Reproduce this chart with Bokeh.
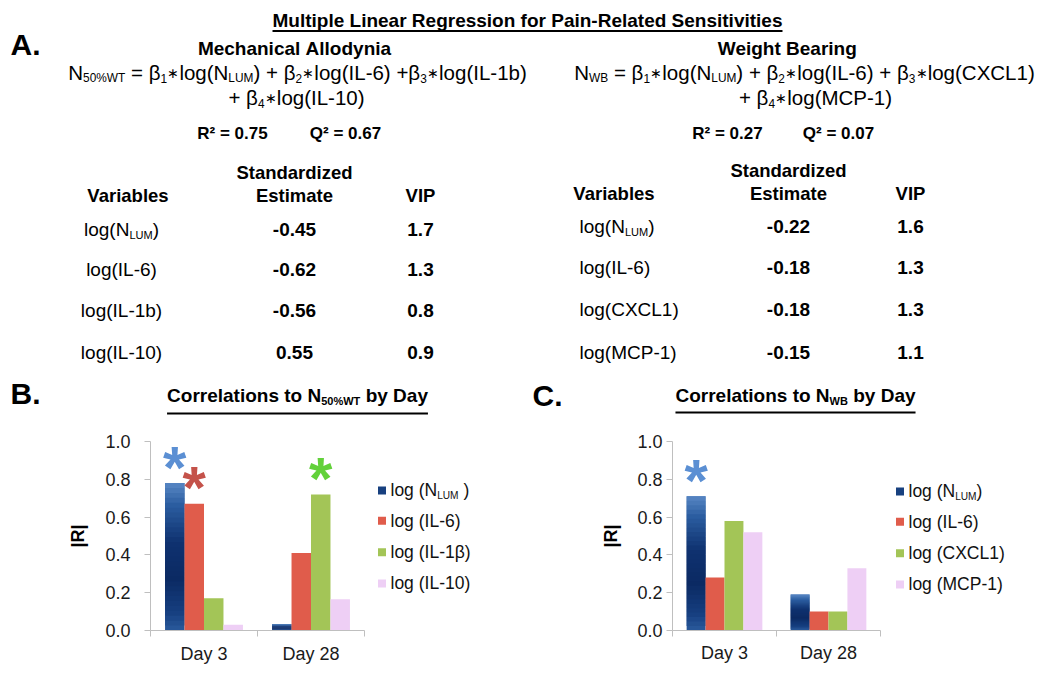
import re
from bokeh.plotting import figure
from bokeh.models import Range1d, FixedTicker, NumeralTickFormatter
from bokeh.layouts import column, row
from bokeh.core.properties import value
from bokeh.embed import file_html
from bokeh.resources import INLINE

# ---------------------------------------------------------------- data
main_title = "Multiple Linear Regression for Pain-Related Sensitivities"

ma_title = "Mechanical Allodynia"
ma_eq = ["N_{50%WT} = β_{1}∗log(N_{LUM}) + β_{2}∗log(IL-6) +β_{3}∗log(IL-1b)",
         "+ β_{4}∗log(IL-10)"]
ma_r2 = 0.75
ma_q2 = 0.67
ma_vars = ["log(N_{LUM})", "log(IL-6)", "log(IL-1b)", "log(IL-10)"]
ma_est = [-0.45, -0.62, -0.56, 0.55]
ma_vip = [1.7, 1.3, 0.8, 0.9]

wb_title = "Weight Bearing"
wb_eq = ["N_{WB} = β_{1}∗log(N_{LUM}) + β_{2}∗log(IL-6) + β_{3}∗log(CXCL1)",
         "+ β_{4}∗log(MCP-1)"]
wb_r2 = 0.27
wb_q2 = 0.07
wb_vars = ["log(N_{LUM})", "log(IL-6)", "log(CXCL1)", "log(MCP-1)"]
wb_est = [-0.22, -0.18, -0.18, -0.15]
wb_vip = [1.6, 1.3, 1.3, 1.1]

days = ["Day 3", "Day 28"]

b_title = "Correlations to N_{50%WT} by Day"
b_series = ["log (N_{LUM} )", "log (IL-6)", "log (IL-1β)", "log (IL-10)"]
b_nlum = [0.78, 0.035]
b_il6 = [0.67, 0.41]
b_il1b = [0.17, 0.72]
b_il10 = [0.03, 0.165]
b_sig = [[True, False], [True, False], [False, True], [False, False]]

c_title = "Correlations to N_{WB} by Day"
c_series = ["log (N_{LUM})", "log (IL-6)", "log (CXCL1)", "log (MCP-1)"]
c_nlum = [0.71, 0.19]
c_il6 = [0.28, 0.10]
c_cxcl1 = [0.58, 0.10]
c_mcp1 = [0.52, 0.33]
c_sig = [[True, False], [False, False], [False, False], [False, False]]

# ---------------------------------------------------------------- styling
FONT = "Liberation Sans"
SUB = 0.58
series_colors = ["#17407f", "#e05c4b", "#a3c557", "#eecff5"]
star_colors = ["#5b8fd3", "#c4524a", "#62d13a", "#eecff5"]
axis_grey = "#bfbfbf"

_R = {' ': 278, '!': 278, '%': 889, '(': 333, ')': 333, '*': 389, '+': 584, ',': 278,
      '-': 333, '.': 278, '/': 278, ':': 278, '=': 584, '|': 260, 'β': 575, '∗': 600, '²': 333}
_B = {' ': 278, '!': 333, '%': 889, '(': 333, ')': 333, '*': 389, '+': 584, ',': 278,
      '-': 333, '.': 278, '/': 278, ':': 333, '=': 584, '|': 280, 'β': 600, '∗': 600, '²': 333}
for d in "0123456789":
    _R[d] = 556
    _B[d] = 556
_R.update(dict(zip("ABCDEFGHIJKLMNOPQRSTUVWXYZ",
                   [667, 667, 722, 722, 667, 611, 778, 722, 278, 500, 667, 556, 833,
                    722, 778, 667, 778, 722, 667, 611, 722, 667, 944, 667, 667, 611])))
_R.update(dict(zip("abcdefghijklmnopqrstuvwxyz",
                   [556, 556, 500, 556, 556, 278, 556, 556, 222, 222, 500, 222, 833,
                    556, 556, 556, 556, 333, 500, 278, 556, 500, 722, 500, 500, 500])))
_B.update(dict(zip("ABCDEFGHIJKLMNOPQRSTUVWXYZ",
                   [722, 722, 722, 722, 667, 611, 778, 722, 278, 556, 722, 611, 833,
                    722, 778, 667, 778, 722, 667, 611, 722, 667, 944, 667, 667, 611])))
_B.update(dict(zip("abcdefghijklmnopqrstuvwxyz",
                   [556, 611, 556, 611, 556, 333, 611, 611, 278, 278, 556, 278, 889,
                    611, 611, 611, 611, 389, 556, 333, 611, 556, 778, 556, 556, 500])))

NBSP = "\u00a0"


def tw(s, size, bold):
    m = _B if bold else _R
    return sum(m.get(c, 556) for c in s) * size / 1000.0


def parse(s):
    out = []
    for m in re.finditer(r"_\{([^}]*)\}|∗|[^_∗]+", s):
        tok = m.group(0)
        if tok.startswith("_{"):
            out.append((m.group(1), "sub"))
        elif tok == "∗":
            out.append((tok, "op"))
        else:
            out.append((tok, "n"))
    return out


def rich(p, s, x, y, size, bold=False, align="left", color="#000000"):
    """Draw text with subscripts; y is the visual middle of the line."""
    segs = []
    for t, k in parse(s):
        fs = size * SUB if k == "sub" else size
        segs.append((t, k, fs, tw(t, fs, bold)))
    total = sum(sg[3] for sg in segs)
    start = {"left": 0.0, "center": -total / 2.0, "right": -total}[align]
    cx = start
    style = "bold" if bold else "normal"
    for t, k, fs, w in segs:
        if k == "op":
            p.text(x=[x], y=[y], text=[t], x_offset=cx + w / 2.0, y_offset=0.02 * size,
                   text_align="center", text_baseline="middle",
                   text_font=value(FONT), text_font_size=f"{0.68 * size:.2f}px",
                   text_font_style="normal", text_color=color)
        else:
            yo = 0.28 * size if k == "sub" else 0.0
            p.text(x=[x], y=[y], text=[t.replace(" ", NBSP)], x_offset=cx, y_offset=yo,
                   text_align="left", text_baseline="middle",
                   text_font=value(FONT), text_font_size=f"{fs:.2f}px",
                   text_font_style=style, text_color=color)
        cx += w
    return start, total


# ---------------------------------------------------------------- top (text) panel
TOP_W, TOP_H = 1044, 428
top = figure(width=TOP_W, height=TOP_H, x_range=Range1d(0, TOP_W), y_range=Range1d(TOP_H, 0),
             x_axis_type=None, y_axis_type=None, output_backend="svg",
             toolbar_location=None, min_border=0, outline_line_color=None)
top.xgrid.visible = False
top.ygrid.visible = False

rich(top, "A.", 10, 44, 30, bold=True)
st, tot = rich(top, main_title, 527, 20, 19, bold=True, align="center")
top.segment(x0=[527 + st], y0=[30.5], x1=[527 + st + tot], y1=[30.5], line_width=2, line_color="black")


def mlr_block(cx, title, eq, r2, q2, r2x, q2x, eqx, eq2x):
    rich(top, title, cx, 48, 19, bold=True, align="center")
    rich(top, eq[0], eqx, 72, 20.5, align="center")
    rich(top, eq[1], eq2x, 97, 20.5, align="center")
    rich(top, f"R² = {r2:.2f}", r2x, 133, 17, bold=True, align="center")
    rich(top, f"Q² = {q2:.2f}", q2x, 133, 17, bold=True, align="center")


mlr_block(294, ma_title, ma_eq, ma_r2, ma_q2, 232, 345, 297, 296)
mlr_block(787, wb_title, wb_eq, wb_r2, wb_q2, 727, 838, 804, 815)


def table(var_x, var_align, var_head_x, est_x, vip_x, head_y, rows_y, vars_, est, vip):
    rich(top, "Standardized", est_x, head_y - 23, 18.5, bold=True, align="center")
    rich(top, "Estimate", est_x, head_y, 18.5, bold=True, align="center")
    rich(top, "Variables", var_head_x, head_y, 18.5, bold=True, align="center")
    rich(top, "VIP", vip_x, head_y, 18.5, bold=True, align="center")
    for yy, v, e, vp in zip(rows_y, vars_, est, vip):
        rich(top, v, var_x, yy, 19, align=var_align)
        rich(top, f"{e:.2f}", est_x, yy, 19, bold=True, align="center")
        rich(top, f"{vp:.1f}", vip_x, yy, 19, bold=True, align="center")


table(121, "center", 128, 294, 420, 195, [229, 269, 310, 352], ma_vars, ma_est, ma_vip)
table(579, "left", 614, 788, 910, 193, [226, 267, 309, 352], wb_vars, wb_est, wb_vip)

rich(top, "B.", 10, 393, 30, bold=True)
st, tot = rich(top, b_title, 297, 395, 19, bold=True, align="center")
top.segment(x0=[297 + st], y0=[413], x1=[297 + st + tot], y1=[413], line_width=2, line_color="black")
rich(top, "C.", 532, 395, 30, bold=True)
st, tot = rich(top, c_title, 795, 395, 19, bold=True, align="center")
top.segment(x0=[795 + st], y0=[412], x1=[795 + st + tot], y1=[412], line_width=2, line_color="black")


# ---------------------------------------------------------------- bar panels
def lerp_color(stops, t):
    for (t0, c0), (t1, c1) in zip(stops[:-1], stops[1:]):
        if t0 <= t <= t1:
            f = (t - t0) / (t1 - t0) if t1 > t0 else 0
            a = [int(c0[i:i + 2], 16) for i in (1, 3, 5)]
            b = [int(c1[i:i + 2], 16) for i in (1, 3, 5)]
            return "#%02x%02x%02x" % tuple(round(a[j] + (b[j] - a[j]) * f) for j in range(3))
    return stops[-1][1]


GRAD = [(0.0, "#2a5a9c"), (0.12, "#163f80"), (0.35, "#0b2a63"), (0.6, "#0f3270"),
        (0.85, "#2b5da0"), (1.0, "#5887c4")]


def bar_panel(vals, names, sig, W, H, fl, ft, fb, ppc, leg_dx, leg_rows,
              tick_standoff, label_standoff, day_standoff):
    ppu = H - ft - fb
    fw = W - fl
    p = figure(width=W, height=H, x_range=Range1d(0, fw / ppc), y_range=Range1d(0, 1.0),
               output_backend="svg", toolbar_location=None,
               min_border_left=fl, min_border_right=0, min_border_top=ft, min_border_bottom=fb,
               outline_line_color=None)
    p.xgrid.visible = False
    p.ygrid.visible = False
    n = len(vals)
    bw = 0.182
    for k, v in enumerate(vals):
        xs = [i + 0.5 + (k - (n - 1) / 2.0) * bw for i in range(len(days))]
        if k == 0:
            ns = 30
            for j in range(ns):
                c = lerp_color(GRAD, (j + 0.5) / ns)
                p.vbar(x=xs, width=bw, bottom=[vv * j / ns for vv in v],
                       top=[vv * min(j + 2, ns) / ns for vv in v], fill_color=c, line_color=None)
        else:
            p.vbar(x=xs, width=bw, bottom=0, top=v, fill_color=series_colors[k], line_color=None)
        sx = [x for x, s in zip(xs, sig[k]) if s]
        sy = [vv for vv, s in zip(v, sig[k]) if s]
        if sx:
            p.text(x=sx, y=sy, text=["*"] * len(sx), text_align="center", text_baseline="middle",
                   y_offset=-16, text_font=value(FONT), text_font_size="60px",
                   text_font_style="bold", text_color=star_colors[k])
    # legend
    for k, (nm, dy) in enumerate(zip(names, leg_rows)):
        lx = leg_dx / ppc
        ly = dy / ppu
        p.scatter(x=[lx - 8.5 / ppc], y=[ly], marker="square", size=8,
                  fill_color=series_colors[k], line_color=None)
        rich(p, nm, lx, ly, 17.5, align="left", color="#111111")
    # axes
    yax = p.yaxis[0]
    yax.ticker = FixedTicker(ticks=[0.0, 0.2, 0.4, 0.6, 0.8, 1.0])
    yax.formatter = NumeralTickFormatter(format="0.0")
    yax.axis_line_color = axis_grey
    yax.major_tick_line_color = axis_grey
    yax.major_tick_out = 6
    yax.major_tick_in = 0
    yax.minor_tick_line_color = None
    yax.major_label_standoff = tick_standoff
    yax.major_label_text_font = FONT
    yax.major_label_text_font_size = "18px"
    yax.major_label_text_color = "#1a1a1a"
    yax.axis_label = "|R|"
    yax.axis_label_text_font = FONT
    yax.axis_label_text_font_size = "18px"
    yax.axis_label_text_font_style = "bold"
    yax.axis_label_text_color = "#000000"
    yax.axis_label_standoff = label_standoff
    xax = p.xaxis[0]
    xax.bounds = (0, len(days))
    xax.ticker = FixedTicker(ticks=[i + 0.5 for i in range(len(days))],
                             minor_ticks=list(range(len(days) + 1)))
    xax.major_label_overrides = {i + 0.5: d for i, d in enumerate(days)}
    xax.axis_line_color = axis_grey
    xax.major_tick_line_color = None
    xax.major_tick_out = 0
    xax.major_tick_in = 0
    xax.minor_tick_line_color = axis_grey
    xax.minor_tick_out = 6
    xax.minor_tick_in = 0
    xax.major_label_standoff = day_standoff
    xax.major_label_text_font = FONT
    xax.major_label_text_font_size = "18px"
    xax.major_label_text_color = "#1a1a1a"
    return p


pb = bar_panel([b_nlum, b_il6, b_il1b, b_il10], b_series, b_sig,
               525, 244, 150, 9, 42, 107, 240, [143, 112, 80, 48], 14, 14, 7)
pc = bar_panel([c_nlum, c_il6, c_cxcl1, c_mcp1], c_series, c_sig,
               519, 244, 147, 13, 38, 104, 236, [142, 111, 79, 47], 4, 13, 6)

layout = column(top, row(pb, pc))
open("out.html", "w").write(file_html(layout, INLINE))
